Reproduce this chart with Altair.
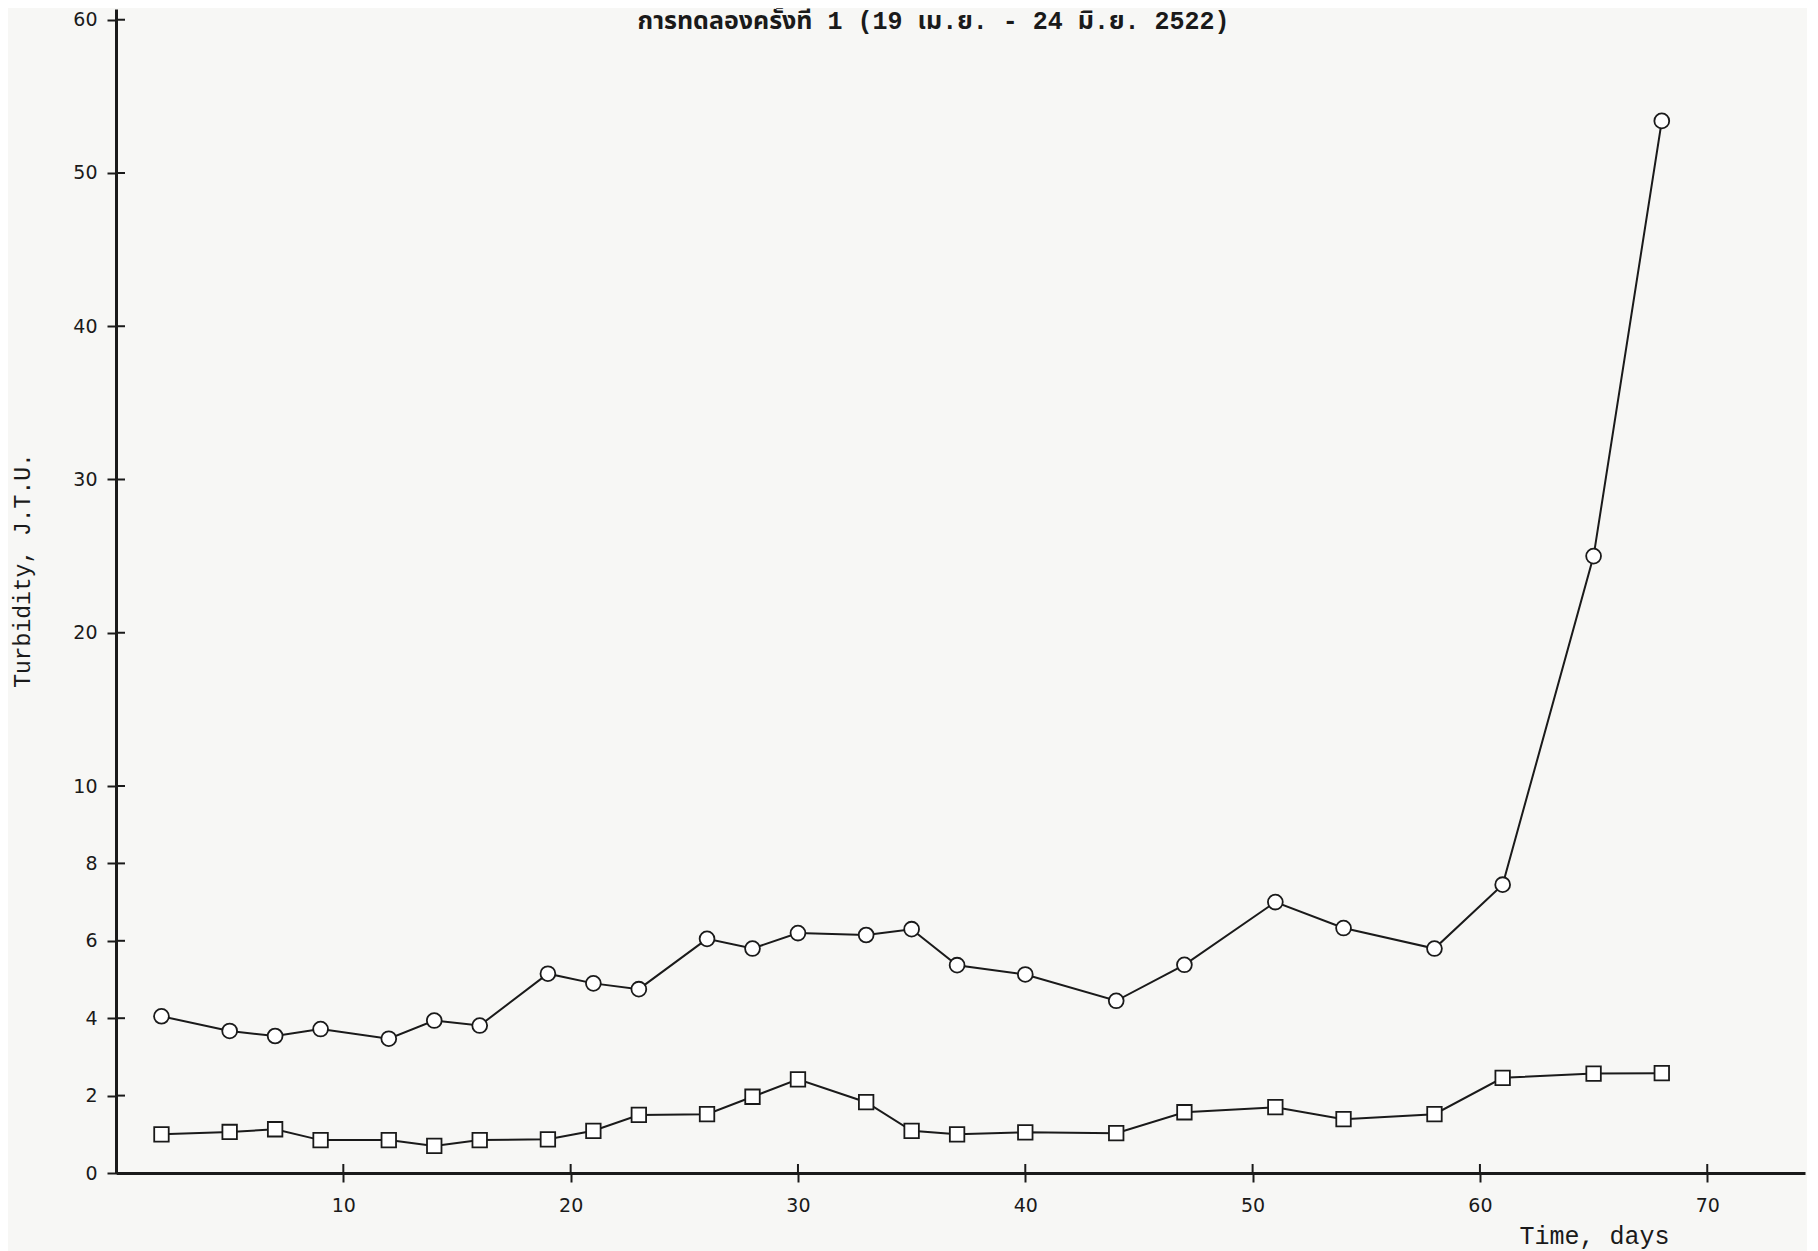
import altair as alt
import pandas as pd

days = [2, 5, 7, 9, 12, 14, 16, 19, 21, 23, 26, 28, 30, 33, 35, 37, 40, 44, 47, 51, 54, 58, 61, 65, 68]
circle_vals = [4.05, 3.67, 3.54, 3.72, 3.47, 3.94, 3.81, 5.15, 4.9, 4.75, 6.05, 5.8, 6.2, 6.15, 6.3,
               5.37, 5.13, 4.45, 5.38, 7.0, 6.33, 5.8, 7.45, 25.0, 53.4]
square_vals = [1.0, 1.06, 1.13, 0.85, 0.85, 0.7, 0.85, 0.87, 1.09, 1.5, 1.52, 1.97, 2.42, 1.83, 1.09,
               1.0, 1.05, 1.03, 1.57, 1.7, 1.39, 1.52, 2.46, 2.57, 2.58]
y_ticks = [0, 2, 4, 6, 8, 10, 20, 30, 40, 50, 60]
x_ticks = [10, 20, 30, 40, 50, 60, 70]
title_text = "การทดลองครั้งที่ 1 (19 เม.ย. - 24 มิ.ย. 2522)"

rows = []
for d, v in zip(days, circle_vals):
    rows.append({"day": d, "value": v, "series": "circle"})
for d, v in zip(days, square_vals):
    rows.append({"day": d, "value": v, "series": "square"})
df = pd.DataFrame(rows)
ydf = pd.DataFrame({"yt": y_ticks})
xdf = pd.DataFrame({"xt": x_ticks})

H = 1164
W = 1689
xs = alt.Scale(domain=[0, 74.3], nice=False, zero=False)
ys = alt.Scale(domain=[0, 10, 60.7], range=[H, 777, 0], nice=False, zero=False)

label_font = "DejaVu Sans"
mono = "Liberation Mono"
ink = "#1a1a1a"

x_axis = alt.Axis(values=x_ticks, domain=True, domainColor=ink, domainWidth=3,
                  ticks=True, tickColor=ink, tickWidth=2, tickSize=9,
                  labelFont=label_font, labelFontSize=19, labelColor=ink, labelPadding=14,
                  grid=False, title="Time, days", titleFont=mono, titleFontSize=25,
                  titleFontWeight="normal", titleColor=ink,
                  titleX=1478, titleY=62, titleAlign="center", titleBaseline="middle")
y_axis = alt.Axis(values=y_ticks, domain=True, domainColor=ink, domainWidth=3,
                  ticks=True, tickColor=ink, tickWidth=2, tickSize=9,
                  labelFont=label_font, labelFontSize=19, labelColor=ink, labelPadding=10,
                  grid=False, title="Turbidity, J.T.U.", titleFont=mono, titleFontSize=23,
                  titleFontWeight="normal", titleColor=ink,
                  titleX=-94, titleY=561, titleAngle=-90, titleAlign="center",
                  titleBaseline="middle")

lines = alt.Chart(df).mark_line(color=ink, strokeWidth=2).encode(
    x=alt.X("day:Q", scale=xs, axis=x_axis),
    y=alt.Y("value:Q", scale=ys, axis=y_axis),
    detail="series:N",
)

points = alt.Chart(df).mark_point(filled=True, fill="white", stroke=ink, strokeWidth=1.8, opacity=1).encode(
    x=alt.X("day:Q", scale=xs, axis=x_axis),
    y=alt.Y("value:Q", scale=ys, axis=y_axis),
    shape=alt.Shape("series:N", scale=alt.Scale(domain=["circle", "square"], range=["circle", "square"]), legend=None),
    size=alt.Size("series:N", scale=alt.Scale(domain=["circle", "square"], range=[220, 210]), legend=None),
)

yticks_in = alt.Chart(ydf).mark_rule(color=ink, strokeWidth=2).encode(
    y=alt.Y("yt:Q", scale=ys, axis=y_axis),
    x=alt.value(0),
    x2=alt.value(9),
)
xticks_in = alt.Chart(xdf).mark_rule(color=ink, strokeWidth=2).encode(
    x=alt.X("xt:Q", scale=xs, axis=x_axis),
    y=alt.value(H - 9),
    y2=alt.value(H),
)

chart = alt.layer(lines, points, yticks_in, xticks_in).properties(
    width=W,
    height=H,
    autosize=alt.AutoSizeParams(type="none"),
    padding={"left": 108, "top": 1, "right": 2, "bottom": 78},
    background="#f7f7f5",
    title=alt.TitleParams(text=title_text, anchor="middle", frame="group", fontSize=25,
                          font="Liberation Mono, Noto Sans Thai, Noto Sans, sans-serif",
                          fontWeight="bold", color=ink, dx=-27, dy=54, baseline="bottom"),
).configure_view(stroke=None)

chart.save("out.html", embed_options={"renderer": "svg", "actions": False})
